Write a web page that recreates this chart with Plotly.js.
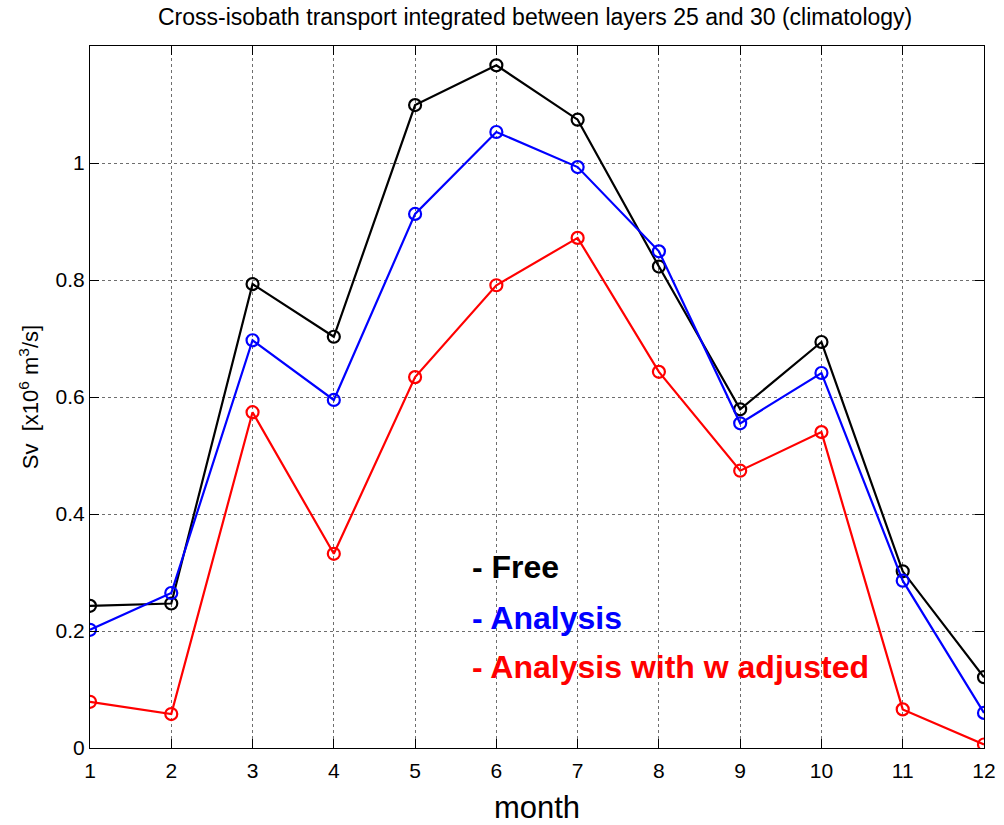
<!DOCTYPE html>
<html>
<head>
<meta charset="utf-8">
<script src="https://cdn.plot.ly/plotly-3.0.1.min.js"></script>
<style>
  html, body { margin: 0; padding: 0; background: #fff; }
  #chart { width: 1004px; height: 825px; }
</style>
</head>
<body>
<div id="chart"></div>
<script>
// Monthly climatology of cross-isobath transport (Sv)
const months = [1, 2, 3, 4, 5, 6, 7, 8, 9, 10, 11, 12];
const freeRun = [0.243, 0.247, 0.793, 0.703, 1.099, 1.167, 1.074, 0.823, 0.579, 0.694, 0.302, 0.121];
const analysis = [0.202, 0.265, 0.697, 0.595, 0.913, 1.053, 0.993, 0.849, 0.555, 0.641, 0.286, 0.060];
const analysisW = [0.079, 0.058, 0.574, 0.332, 0.634, 0.791, 0.872, 0.643, 0.474, 0.540, 0.066, 0.006];
const yTicks = [0, 0.2, 0.4, 0.6, 0.8, 1];
const yTickText = ['0', '0.2', '0.4', '0.6', '0.8', '1'];

const seriesNames = ['- Free', '- Analysis', '- Analysis with w adjusted'];
const seriesColors = ['#000000', '#0000ff', '#ff0000'];
const seriesData = [freeRun, analysis, analysisW];
// label anchor positions (data units)
const labelX = [5.68, 5.68, 5.68];
const labelY = [0.309, 0.222, 0.139];

const font = 'Liberation Sans, Arial, Helvetica, sans-serif';

const traces = seriesData.map((vals, i) => ({
  x: months,
  y: vals,
  type: 'scatter',
  mode: 'lines+markers',
  name: seriesNames[i],
  line: { color: seriesColors[i], width: 2.2 },
  marker: { symbol: 'circle-open', size: 12, color: seriesColors[i], line: { width: 2.2, color: seriesColors[i] } }
}));

const annotations = seriesNames.map((n, i) => ({
  x: labelX[i], y: labelY[i], xref: 'x', yref: 'y',
  xanchor: 'left', yanchor: 'middle', showarrow: false,
  text: '<b>' + n + '</b>',
  font: { family: font, size: 32, color: seriesColors[i] }
}));

const layout = {
  width: 1004, height: 825,
  margin: { l: 90, r: 20, t: 46, b: 77 },
  paper_bgcolor: '#fff', plot_bgcolor: '#fff',
  font: { family: font, size: 21, color: '#000' },
  showlegend: false,
  title: {
    text: 'Cross-isobath transport integrated between layers 25 and 30 (climatology)',
    font: { family: font, size: 23, color: '#000' },
    x: 0.533, xanchor: 'center', y: 0.979, yanchor: 'middle'
  },
  xaxis: {
    range: [1, 12], tickmode: 'array', tickvals: months, ticktext: months.map(String),
    showline: true, linecolor: '#000', linewidth: 1, mirror: 'ticks',
    ticks: 'inside', ticklen: 9, tickcolor: '#000', tickwidth: 1,
    showgrid: true, gridcolor: '#6e6e6e', griddash: 'dot', gridwidth: 1,
    zeroline: false,
    tickfont: { family: font, size: 21, color: '#000' },
    ticklabelstandoff: 4,
    title: { text: 'month', font: { family: font, size: 31, color: '#000' }, standoff: 20 }
  },
  yaxis: {
    range: [0, 1.2], tickmode: 'array', tickvals: yTicks, ticktext: yTickText,
    showline: true, linecolor: '#000', linewidth: 1, mirror: 'ticks',
    ticks: 'inside', ticklen: 9, tickcolor: '#000', tickwidth: 1,
    showgrid: true, gridcolor: '#6e6e6e', griddash: 'dot', gridwidth: 1,
    zeroline: false,
    tickfont: { family: font, size: 21, color: '#000' },
    title: { text: 'Sv  [x10<sup>6</sup> m<sup>3</sup>/s]', font: { family: font, size: 22, color: '#000' }, standoff: 10 }
  },
  annotations: annotations
};

Plotly.newPlot('chart', traces, layout, { displayModeBar: false, staticPlot: true });
</script>
</body>
</html>
